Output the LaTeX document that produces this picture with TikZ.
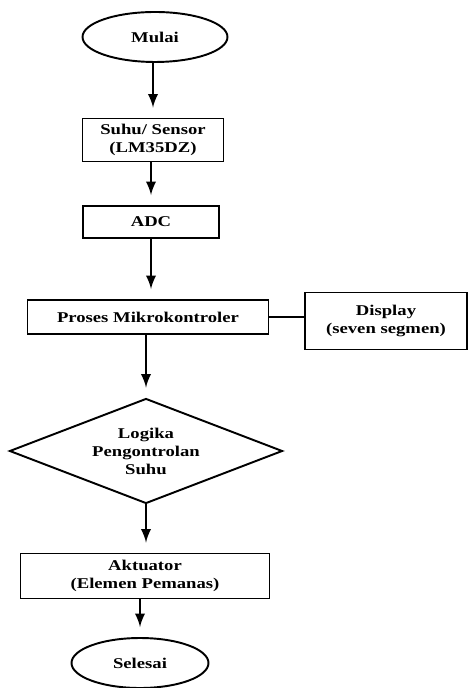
\documentclass[tikz,border=0pt]{standalone}
\usepackage{fontspec}
\setmainfont{Liberation Serif}[FakeStretch=1.25]
\usepackage{tikz}
\usetikzlibrary{positioning}
\usetikzlibrary{shapes.geometric}

\begin{document}
\begin{tikzpicture}[x=0.02cm, y=-0.02cm,
    every node/.style={font=\fontsize{8.5}{10.2}\selectfont\bfseries, align=center, line width=1.1pt},
    box/.style={draw, rectangle, inner sep=0pt},
    term/.style={draw, ellipse, inner sep=0pt},
    decide/.style={draw, diamond, aspect=2.6, inner sep=0pt},
    flow/.style={-latex, line width=1.6pt, shorten >=0.2cm}]
    \useasboundingbox (0,0) rectangle (470,688);
    \node[term, minimum width=2.9cm, minimum height=1cm] (mulai) at (155,37) {Mulai};
    \node[box, minimum width=2.82cm, minimum height=0.86cm] (sensor) at (153,140) {Suhu/ Sensor\\(LM35DZ)};
    \node[box, minimum width=2.72cm, minimum height=0.64cm] (adc) at (151,222) {ADC};
    \node[box, minimum width=4.82cm, minimum height=0.68cm] (proses) at (148,317) {Proses Mikrokontroler};
    \node[box, minimum width=3.24cm, minimum height=1.14cm] (display) at (386,321) {Display\\(seven segmen)};
    \node[decide, minimum width=5.46cm, minimum height=2.1cm] (logika) at (146,451) {Logika\\Pengontrolan\\Suhu};
    \node[box, minimum width=4.98cm, minimum height=0.9cm] (aktuator) at (145,576) {Aktuator\\(Elemen Pemanas)};
    \node[term, minimum width=2.74cm, minimum height=1cm] (selesai) at (140,663) {Selesai};
    \draw[flow] (mulai.south -| sensor.north) -- (sensor.north);
    \draw[flow] (sensor.south -| adc.north) -- (adc.north);
    \draw[flow] (adc.south) -- (adc.south |- proses.north);
    \draw[flow] (proses.south -| logika.north) -- (logika.north);
    \draw[flow] (logika.south) -- (logika.south |- aktuator.north);
    \draw[flow] (aktuator.south -| selesai.north) -- (selesai.north);
    \draw[line width=1.1pt] (proses.east) -- (proses.east -| display.west);
\end{tikzpicture}
\end{document}
